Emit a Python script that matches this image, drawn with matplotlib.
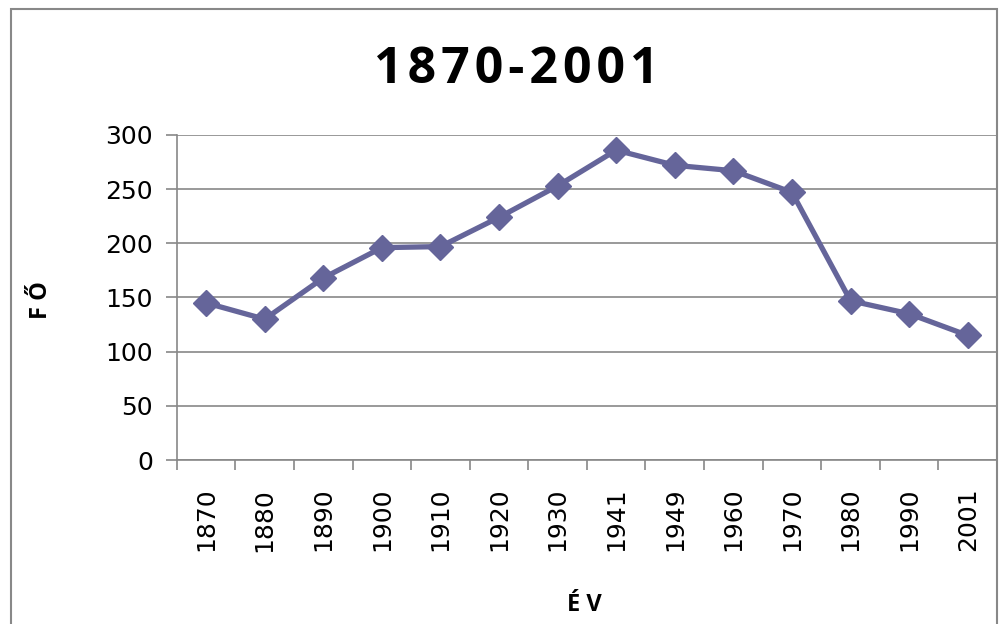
import matplotlib
matplotlib.use("Agg")
import matplotlib.pyplot as plt
from matplotlib.patches import Rectangle

years = ["1870", "1880", "1890", "1900", "1910", "1920", "1930",
         "1941", "1949", "1960", "1970", "1980", "1990", "2001"]
people = [145, 130, 168, 196, 197, 224, 253, 286, 272, 267, 247, 147, 135, 115]
title = "1870-2001"

line_color = "#65659a"
grid_color = "#888888"

fig = plt.figure(figsize=(9.99, 6.24), dpi=100)
ax = fig.add_axes([0.177, 0.2628, 0.821, 0.5209])

x = list(range(len(years)))
ax.plot(x, people, color=line_color, lw=3.8, marker="D", markersize=13,
        markerfacecolor=line_color, markeredgecolor=line_color, zorder=3)

ax.set_xlim(-0.5, len(years) - 0.5)
ax.set_ylim(0, 300)
ax.set_yticks(range(0, 301, 50))
ax.yaxis.grid(True, color=grid_color, lw=1.2)
ax.set_axisbelow(True)

ax.set_xticks(x)
ax.set_xticklabels(years, rotation=90, fontsize=18)
ax.set_xticks([i - 0.5 for i in range(len(years) + 1)], minor=True)
ax.tick_params(axis="x", which="major", length=0, pad=20)
ax.tick_params(axis="x", which="minor", length=7, color=grid_color, width=1.2)
ax.tick_params(axis="y", length=8, color=grid_color, width=1.2, labelsize=18, pad=9)

for s in ["top", "right"]:
    ax.spines[s].set_visible(False)
for s in ["left", "bottom"]:
    ax.spines[s].set_color(grid_color)
    ax.spines[s].set_linewidth(1.2)

# title is letter-spaced in the original, use hair spaces
fig.text(0.517, 0.888, "\u200a".join(title), ha="center", va="center",
         fontsize=36, fontweight="bold", family=["Open Sans", "DejaVu Sans"])
fig.text(0.041, 0.519, "F Ő", ha="center", va="center", rotation=90,
         fontsize=17, fontweight="bold", family="Open Sans")
fig.text(0.585, 0.03, "É V", ha="center", va="center",
         fontsize=17, fontweight="bold", family="Open Sans")

# chart border
fig.patches.append(Rectangle((0.011, -0.05), 0.987, 1.035, transform=fig.transFigure,
                             fill=False, edgecolor=grid_color, lw=1.5))

fig.savefig("out.png", dpi=100)
